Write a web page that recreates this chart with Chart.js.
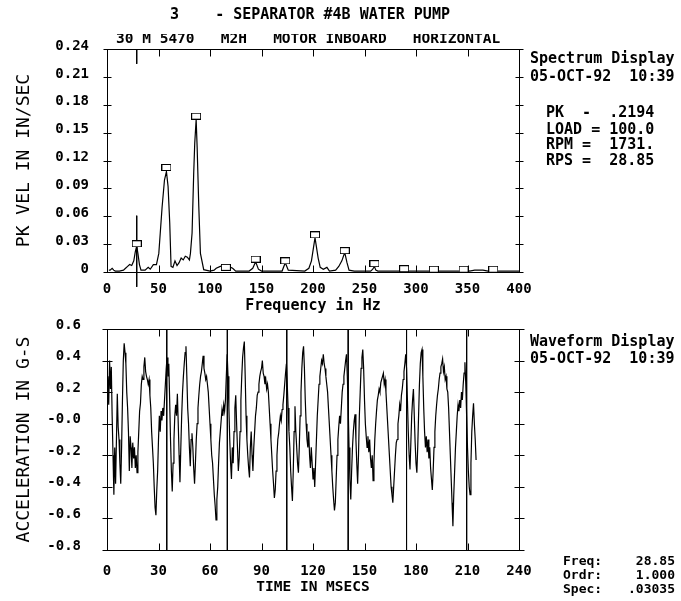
<!DOCTYPE html>
<html>
<head>
<meta charset="utf-8">
<script src="https://cdn.jsdelivr.net/npm/chart.js@4.4.1/dist/chart.umd.min.js"></script>
<style>
  body { margin: 0; background: #fff; }
  #wrap { position: relative; width: 681px; height: 601px; overflow: hidden; font-family: "DejaVu Sans Mono", monospace; color: #000; }
  canvas { position: absolute; left: 0; }
  .t { position: absolute; white-space: pre; line-height: 1; font-weight: bold; }
</style>
</head>
<body>
<div id="wrap">
  <canvas id="spectrum" width="681" height="320" style="top:0"></canvas>
  <canvas id="waveform" width="681" height="301" style="top:300px"></canvas>

  <div class="t" style="left:170px; top:7px; font-size:15px;">3    - SEPARATOR #4B WATER PUMP</div>
  <div style="position:absolute; left:116px; top:34px; height:11px; overflow:hidden;">
    <div class="t" style="position:relative; top:-3px; font-size:14.5px;">30 M 5470   M2H   MOTOR INBOARD   HORIZONTAL</div>
  </div>

  <div class="t" style="left:530px; top:51px; font-size:15px;">Spectrum Display</div>
  <div class="t" style="left:530px; top:69px; font-size:15px;">05-OCT-92  10:39</div>
  <div class="t" style="left:546px; top:105px; font-size:15px;">PK  -  .2194</div>
  <div class="t" style="left:546px; top:122px; font-size:15px;">LOAD = 100.0</div>
  <div class="t" style="left:546px; top:137px; font-size:15px;">RPM =  1731.</div>
  <div class="t" style="left:546px; top:153px; font-size:15px;">RPS =  28.85</div>

  <div class="t" style="left:530px; top:334px; font-size:15px;">Waveform Display</div>
  <div class="t" style="left:530px; top:351px; font-size:15px;">05-OCT-92  10:39</div>

  <div class="t" style="left:563px; top:554px; font-size:13px;">Freq:</div>
  <div class="t" style="left:563px; top:568px; font-size:13px;">Ordr:</div>
  <div class="t" style="left:563px; top:582px; font-size:13px;">Spec:</div>
  <div class="t" style="right:6px; top:554px; font-size:13px; text-align:right;">28.85</div>
  <div class="t" style="right:6px; top:568px; font-size:13px; text-align:right;">1.000</div>
  <div class="t" style="right:6px; top:582px; font-size:13px; text-align:right;">.03035</div>
</div>

<script>
// spectrum (Hz / in/sec)
var specFreq = [1.8, 3, 5, 6.5, 8, 12, 16, 18, 20, 22, 24, 26, 27.5, 28.85, 30, 31.5, 33, 37, 40, 42,
  45, 48, 50.3, 53.5, 55.8, 57.7, 59.3, 60.9, 62.2, 64, 66, 68, 70, 72, 74, 76, 78, 80, 81, 82.6,
  84.2, 85.2, 86.55, 87.5, 89.1, 90.7, 93.9, 100, 104, 106, 110, 114, 118, 122, 125, 138, 141.5, 144.3, 147, 150,
  170, 173.1, 176, 192, 196, 198.5, 201.95, 205, 207, 210, 213.5, 216, 222, 225, 228, 230.8, 233, 235, 240, 256,
  258, 259.6, 261, 263, 285, 288.5, 292, 315, 317, 320, 345, 348, 352, 357, 365, 370, 375, 378, 400];
var specVel = [0.002, 0.002, 0.004, 0.002, 0.001, 0.001, 0.002, 0.004, 0.006, 0.008, 0.007, 0.012, 0.022, 0.028, 0.020, 0.008, 0.002, 0.002, 0.005, 0.003,
  0.008, 0.008, 0.020, 0.070, 0.099, 0.108, 0.092, 0.053, 0.006, 0.005, 0.012, 0.007, 0.010, 0.015, 0.013, 0.017, 0.016, 0.013, 0.020, 0.042,
  0.107, 0.139, 0.164, 0.135, 0.071, 0.020, 0.0025, 0.001, 0.002, 0.004, 0.006, 0.007, 0.006, 0.004, 0.001, 0.001, 0.004, 0.011, 0.003, 0.001,
  0.001, 0.010, 0.002, 0.001, 0.004, 0.012, 0.037, 0.015, 0.005, 0.003, 0.005, 0.001, 0.002, 0.006, 0.012, 0.021, 0.010, 0.002, 0.001, 0.001,
  0.003, 0.006, 0.002, 0.001, 0.001, 0.002, 0.001, 0.001, 0.002, 0.001, 0.001, 0.003, 0.001, 0.002, 0.002, 0.001, 0.001, 0.001, 0.001];

// harmonic markers of 28.85 Hz
var harmFreq = [28.85, 57.7, 86.55, 115.4, 144.25, 173.1, 201.95, 230.8, 259.65, 288.5, 317.35, 346.2, 375.05];
var harmVel = [0.0304, 0.1125, 0.1677, 0.005, 0.0138, 0.012, 0.040, 0.023, 0.009, 0.0035, 0.003, 0.003, 0.003];
var cursorFreq = 28.85;

var specXTicks = [0, 50, 100, 150, 200, 250, 300, 350, 400];
var specYTicks = [0, 0.03, 0.06, 0.09, 0.12, 0.15, 0.18, 0.21, 0.24];

// waveform (G-s), one sample every 0.5 ms, 10 samples per row
var WAVE_STEP = 0.5;
var waveValues = [
  0.18, 0.30, 0.12, 0.40, 0.22, 0.36, 0.05, -0.20, -0.45, -0.15,
  -0.38, -0.10, 0.19, -0.02, -0.10, -0.25, -0.38, -0.15, 0.15, 0.40,
  0.51, 0.45, 0.38, 0.20, 0.10, -0.05, -0.30, -0.08, -0.15, -0.28,
  -0.12, -0.22, -0.15, -0.28, -0.20, -0.31, -0.18, -0.05, 0.08, 0.13,
  0.25, 0.30, 0.28, 0.36, 0.42, 0.33, 0.30, 0.28, 0.25, 0.28,
  0.18, 0.10, -0.05, -0.15, -0.25, -0.40, -0.53, -0.58, -0.42, -0.30,
  -0.10, 0.05, -0.05, 0.08, 0.02, 0.10, 0.05, 0.15, 0.25, 0.35,
  0.42, 0.30, 0.38, 0.15, -0.10, -0.30, -0.43, -0.25, -0.10, 0.05,
  0.12, 0.05, 0.19, 0.00, -0.20, -0.37, -0.15, 0.05, 0.20, 0.30,
  0.38, 0.45, 0.49, 0.30, 0.10, 0.00, -0.15, -0.27, -0.10, -0.06,
  -0.15, -0.28, -0.38, -0.25, -0.10, 0.00, 0.10, 0.18, 0.25, 0.30,
  0.33, 0.38, 0.43, 0.35, 0.32, 0.28, 0.30, 0.25, 0.20, 0.10,
  0.00, -0.10, -0.20, -0.25, -0.35, -0.45, -0.52, -0.61, -0.48, -0.40,
  -0.25, -0.12, -0.05, 0.02, 0.09, 0.05, 0.12, 0.08, 0.15, 0.30,
  0.44, 0.30, 0.10, -0.10, -0.25, -0.35, -0.15, -0.25, -0.05, 0.10,
  0.18, 0.00, -0.15, -0.30, -0.22, -0.05, 0.15, 0.30, 0.42, 0.48,
  0.52, 0.30, 0.05, -0.10, -0.20, -0.28, -0.34, -0.15, -0.05, -0.20,
  -0.30, -0.15, -0.05, 0.05, 0.10, 0.18, 0.20, 0.25, 0.30, 0.33,
  0.35, 0.40, 0.32, 0.30, 0.25, 0.28, 0.22, 0.25, 0.20, 0.10,
  0.00, -0.10, -0.20, -0.30, -0.38, -0.47, -0.42, -0.30, -0.20, -0.10,
  -0.06, 0.00, 0.05, 0.02, 0.09, 0.12, 0.18, 0.25, 0.32, 0.38,
  0.25, 0.10, -0.05, -0.15, -0.30, -0.40, -0.49, -0.30, -0.05, 0.11,
  -0.05, -0.15, -0.25, -0.31, -0.15, 0.05, 0.20, 0.35, 0.45, 0.49,
  0.35, 0.15, 0.00, -0.10, -0.15, -0.05, -0.20, -0.28, -0.15, -0.25,
  -0.35, -0.28, -0.40, -0.25, -0.10, 0.05, 0.15, 0.25, 0.30, 0.35,
  0.40, 0.38, 0.44, 0.38, 0.35, 0.30, 0.25, 0.20, 0.10, 0.00,
  -0.10, -0.20, -0.30, -0.40, -0.48, -0.55, -0.50, -0.35, -0.20, -0.10,
  -0.02, 0.05, 0.00, 0.10, 0.20, 0.25, 0.30, 0.35, 0.40, 0.44,
  0.30, 0.10, -0.15, -0.35, -0.48, -0.30, -0.15, -0.05, 0.02, 0.06,
  -0.10, -0.25, -0.38, -0.20, 0.05, 0.20, 0.35, 0.42, 0.47, 0.35,
  0.15, 0.00, -0.08, -0.15, -0.08, -0.18, -0.10, -0.22, -0.28, -0.20,
  -0.36, -0.25, -0.10, 0.00, 0.08, 0.15, 0.18, 0.22, 0.20, 0.26,
  0.28, 0.30, 0.32, 0.25, 0.28, 0.20, 0.10, 0.00, -0.10, -0.20,
  -0.30, -0.40, -0.45, -0.50, -0.40, -0.30, -0.20, -0.12, -0.10, 0.00,
  0.05, 0.12, 0.08, 0.18, 0.22, 0.28, 0.33, 0.38, 0.44, 0.35,
  0.15, -0.05, -0.20, -0.29, -0.12, 0.05, 0.15, 0.22, 0.05, -0.12,
  -0.25, -0.31, -0.15, 0.05, 0.25, 0.38, 0.45, 0.47, 0.30, 0.10,
  -0.05, -0.15, -0.08, -0.18, -0.10, -0.22, -0.15, -0.28, -0.35, -0.42,
  -0.30, -0.15, -0.05, 0.05, 0.12, 0.18, 0.22, 0.28, 0.32, 0.36,
  0.38, 0.41, 0.33, 0.36, 0.28, 0.30, 0.22, 0.20, 0.10, -0.05,
  -0.20, -0.35, -0.50, -0.65, -0.45, -0.30, -0.15, -0.05, 0.05, 0.12,
  0.08, 0.15, 0.10, 0.20, 0.15, 0.25, 0.32, 0.39, 0.25, 0.05,
  -0.15, -0.30, -0.40, -0.45, -0.25, -0.05, 0.05, 0.13, 0.00, -0.10,
  -0.23
];
// once-per-rev marks (ms)
var revLines = [34.8, 70.1, 104.7, 140.5, 174.5, 209.5];

var waveXTicks = [0, 30, 60, 90, 120, 150, 180, 210, 240];
var waveYTicks = [-0.8, -0.6, -0.4, -0.2, 0, 0.2, 0.4, 0.6];

Chart.defaults.font.family = '"DejaVu Sans Mono", monospace';
Chart.defaults.color = '#000';
var tickFont = { size: 14, weight: 'bold' };

// box round the plot with crossing ticks left/right and inner ticks top/bottom
var frameTicks = {
  id: 'frameTicks',
  afterDraw: function (chart, args, opts) {
    var ctx = chart.ctx, a = chart.chartArea;
    var xs = chart.scales.x, ys = chart.scales.y;
    var L = Math.round(a.left) + 0.5, R = Math.round(a.right) + 0.5;
    var T = Math.round(a.top) + 0.5, B = Math.round(a.bottom) + 0.5;
    ctx.save();
    ctx.strokeStyle = '#000';
    ctx.lineWidth = 1;
    ctx.beginPath();
    ctx.rect(L, T, R - L, B - T);
    ys.ticks.forEach(function (t) {
      var y = Math.round(ys.getPixelForValue(t.value)) + 0.5;
      ctx.moveTo(L - opts.side, y); ctx.lineTo(L + opts.side, y);
      ctx.moveTo(R - opts.side, y); ctx.lineTo(R + opts.side, y);
    });
    xs.ticks.forEach(function (t) {
      var x = Math.round(xs.getPixelForValue(t.value)) + 0.5;
      if (x <= L + 1 || x >= R - 1) return;
      ctx.moveTo(x, T); ctx.lineTo(x, T + opts.inner);
      ctx.moveTo(x, B); ctx.lineTo(x, B - opts.inner);
    });
    ctx.stroke();
    ctx.restore();
  }
};

// little box used to flag the harmonics
var markBox = document.createElement('canvas');
markBox.width = 10;
markBox.height = 7;
var mctx = markBox.getContext('2d');
mctx.fillStyle = '#fff';
mctx.fillRect(0, 0, 10, 7);
mctx.strokeStyle = '#000';
mctx.lineWidth = 1;
mctx.strokeRect(0.5, 0.5, 9, 6);

function fixedTicks(list) {
  return function (axis) {
    axis.ticks = list.map(function (v) { return { value: v }; });
  };
}
// fixed box sizes, no extra room asked for by the labels
function fixedSize(w, h) {
  return function (s) {
    if (w) s.width = w;
    if (h) s.height = h;
    s.paddingTop = 0; s.paddingBottom = 0; s.paddingLeft = 0; s.paddingRight = 0;
  };
}

var specPoints = specFreq.map(function (f, i) { return { x: f, y: specVel[i] }; });
var harmPoints = harmFreq.map(function (f, i) { return { x: f, y: harmVel[i] }; });
var cursorPoints = [
  { x: cursorFreq, y: 0.0606 }, { x: cursorFreq, y: -0.016 }, { x: cursorFreq, y: null },
  { x: cursorFreq, y: 0.24 }, { x: cursorFreq, y: 0.224 }
];

new Chart(document.getElementById('spectrum'), {
  type: 'line',
  data: {
    datasets: [
      { data: harmPoints, showLine: false, pointStyle: markBox, pointRadius: 4, pointHoverRadius: 4 },
      { data: cursorPoints, borderColor: '#000', borderWidth: 1, pointRadius: 0, spanGaps: false, clip: false },
      { data: specPoints, borderColor: '#000', borderWidth: 1.2, pointRadius: 0, tension: 0 }
    ]
  },
  options: {
    responsive: false,
    animation: false,
    events: [],
    layout: { padding: { left: 0, right: 162, top: 49, bottom: 0 } },
    plugins: { legend: { display: false }, tooltip: { enabled: false }, frameTicks: { side: 4, inner: 7 } },
    scales: {
      x: {
        type: 'linear', min: 0, max: 400,
        afterBuildTicks: fixedTicks(specXTicks),
        afterFit: fixedSize(0, 48),
        grid: { display: false }, border: { display: false },
        ticks: { font: tickFont, padding: 1, maxRotation: 0, autoSkip: false },
        title: { display: true, text: 'Frequency in Hz', font: { size: 15, weight: 'bold' }, padding: { top: 0, bottom: 5 } }
      },
      y: {
        type: 'linear', min: 0, max: 0.24,
        afterBuildTicks: fixedTicks(specYTicks),
        afterFit: fixedSize(107, 0),
        grid: { display: false }, border: { display: false },
        ticks: {
          font: tickFont, padding: 10, labelOffset: -3, autoSkip: false,
          callback: function (v) { return v === 0 ? '0' : v.toFixed(2); }
        },
        title: { display: true, text: 'PK VEL IN IN/SEC', font: { size: 18 }, padding: { top: 14, bottom: 0 } }
      }
    }
  },
  plugins: [frameTicks]
});

var wavePoints = waveValues.map(function (v, i) { return { x: i * WAVE_STEP, y: v }; });
var revPoints = [];
revLines.forEach(function (t) {
  revPoints.push({ x: t, y: waveYTicks[waveYTicks.length - 1] }, { x: t, y: waveYTicks[0] }, { x: t, y: null });
});

new Chart(document.getElementById('waveform'), {
  type: 'line',
  data: {
    datasets: [
      { data: revPoints, borderColor: '#000', borderWidth: 1, pointRadius: 0, spanGaps: false },
      { data: wavePoints, borderColor: '#000', borderWidth: 1.2, pointRadius: 0, tension: 0 }
    ]
  },
  options: {
    responsive: false,
    animation: false,
    events: [],
    layout: { padding: { left: 0, right: 162, top: 29, bottom: 0 } },
    plugins: { legend: { display: false }, tooltip: { enabled: false }, frameTicks: { side: 5, inner: 7 } },
    scales: {
      x: {
        type: 'linear', min: 0, max: 240,
        afterBuildTicks: fixedTicks(waveXTicks),
        afterFit: fixedSize(0, 51),
        grid: { display: false }, border: { display: false },
        ticks: { font: tickFont, padding: 5, maxRotation: 0, autoSkip: false },
        title: { display: true, text: 'TIME IN MSECS', font: { size: 14.5, weight: 'bold' }, padding: { top: 0, bottom: 5 } }
      },
      y: {
        type: 'linear', min: -0.8, max: 0.6,
        afterBuildTicks: fixedTicks(waveYTicks),
        afterFit: fixedSize(107, 0),
        grid: { display: false }, border: { display: false },
        ticks: {
          font: tickFont, padding: 18, labelOffset: -4, autoSkip: false,
          callback: function (v) { return v === 0 ? '-0.0' : v.toFixed(1); }
        },
        title: { display: true, text: 'ACCELERATION IN G-S', font: { size: 18 }, padding: { top: 14, bottom: 0 } }
      }
    }
  },
  plugins: [frameTicks]
});
</script>
</body>
</html>
